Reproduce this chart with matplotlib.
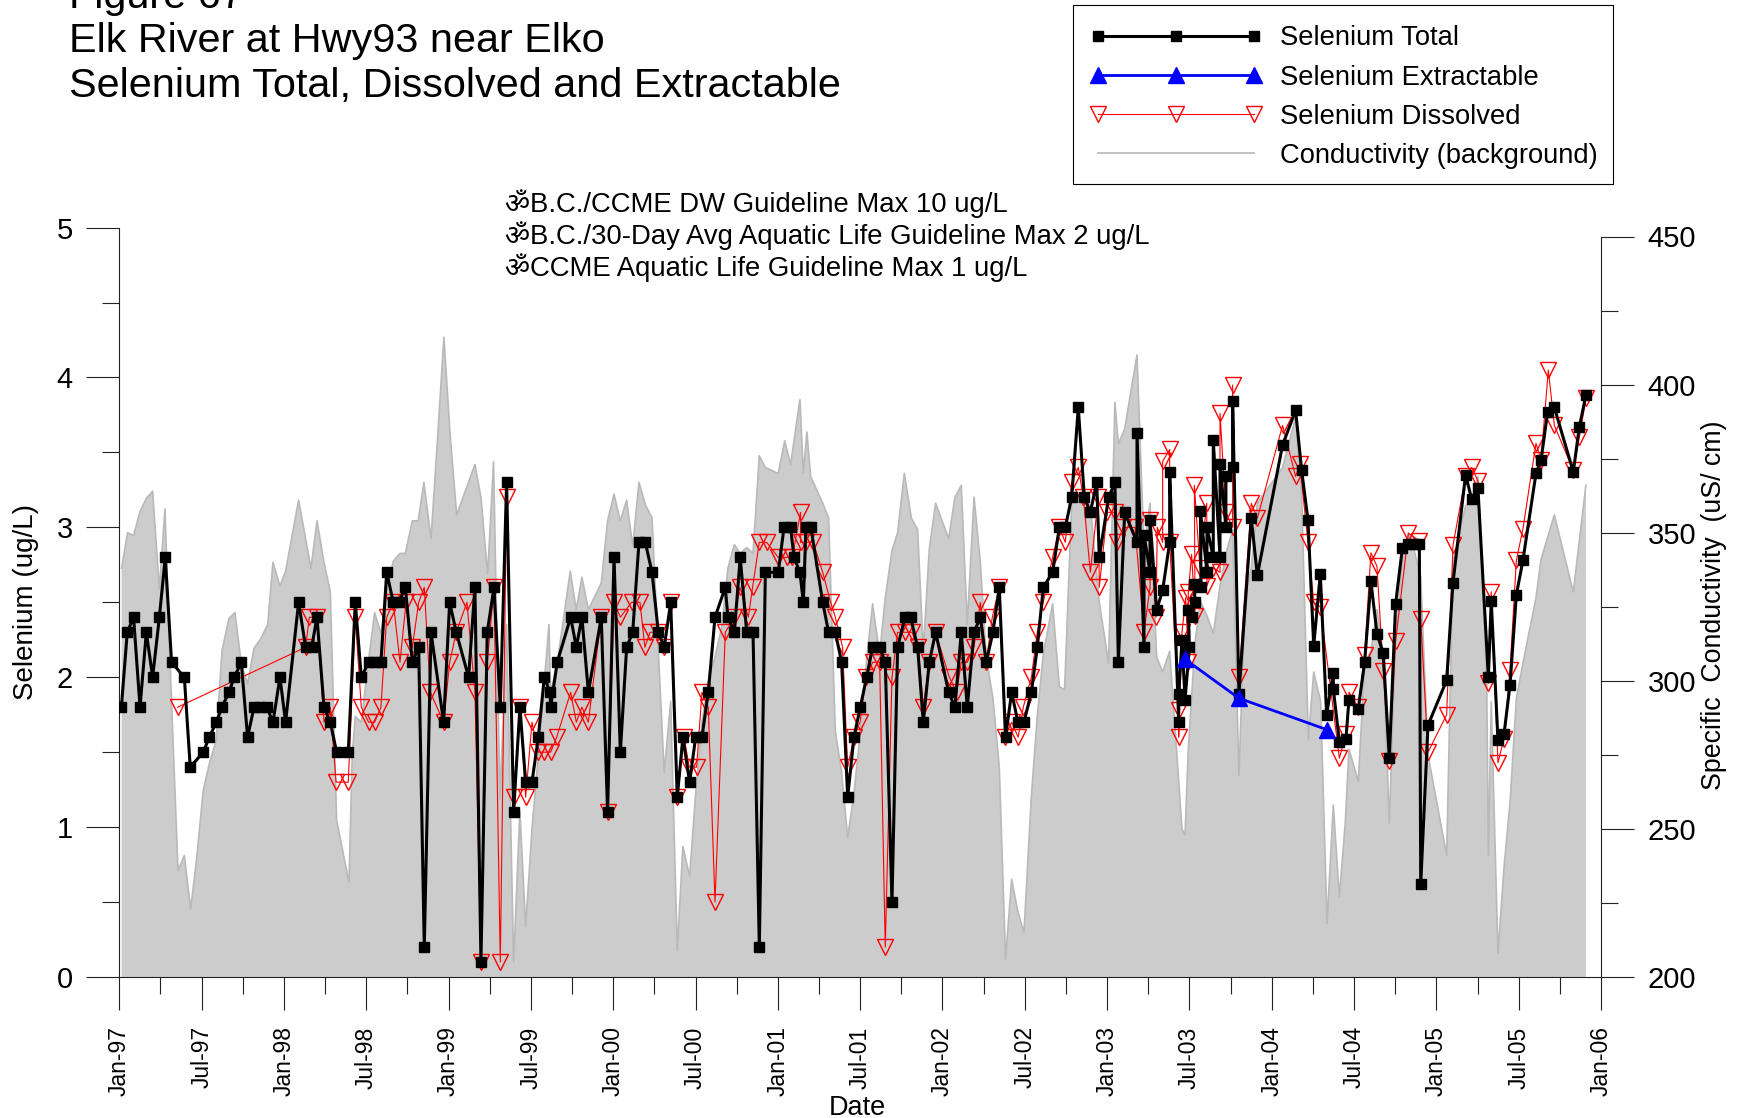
# Elk River selenium figure
import matplotlib
matplotlib.use("Agg")
import matplotlib.pyplot as plt
from matplotlib.patches import Rectangle
from matplotlib.ticker import MultipleLocator

plt.rcParams['font.family'] = ['Liberation Sans', 'Noto Sans', 'DejaVu Sans']

# x values are months counted from Jan-97
total_m = [0.15,0.58,1.04,1.51,1.97,2.43,2.92,3.35,3.81,4.74,5.17,6.12,6.56,7.07,7.48,7.99,8.38,8.89,9.35,9.82,
           10.28,10.76,11.2,11.71,12.12,13.07,13.58,14.02,14.41,14.92,15.38,15.84,16.69,17.2,17.64,18.17,18.61,19.07,19.49,19.97,
           20.38,20.85,21.36,21.82,22.23,22.72,23.64,24.08,24.56,25.46,25.92,26.36,26.82,27.31,27.77,28.23,28.74,29.2,29.62,30.08,
           30.54,30.98,31.39,31.44,31.92,32.9,33.31,33.72,34.19,35.13,35.59,36.06,36.52,36.98,37.42,37.88,38.34,38.83,39.29,39.72,
           40.19,40.67,41.08,41.57,42.01,42.47,42.93,43.42,44.17,44.36,44.83,45.26,45.73,46.19,46.65,47.09,48.03,48.45,48.93,49.18,
           49.61,49.86,50.05,50.41,51.27,51.7,52.19,52.65,53.09,53.55,54.01,54.47,54.91,55.42,55.83,56.32,56.73,57.27,57.68,58.19,
           58.6,59.04,59.5,60.45,60.91,61.37,61.81,62.3,62.76,63.19,63.68,64.14,64.6,65.04,65.5,65.94,66.48,66.91,67.35,68.03,
           68.52,68.95,69.42,69.9,70.34,70.78,71.24,71.43,72.11,72.57,72.82,73.28,74.18,74.18,74.69,74.69,75.13,75.13,75.61,76.05,
           76.56,76.56,77.22,77.22,77.46,77.68,78.0,77.92,78.16,78.41,78.36,78.85,78.8,79.28,79.28,79.74,79.74,80.23,80.23,80.66,
           80.66,81.15,81.15,81.61,82.51,82.95,84.79,85.74,86.18,86.64,87.06,87.54,88.0,88.49,88.49,88.93,89.41,89.63,90.31,90.77,
           91.23,91.67,92.13,92.57,93.03,93.52,93.96,94.4,94.76,94.86,95.39,96.75,97.21,98.13,98.57,99.03,99.79,100.0,100.49,100.93,
           101.37,101.83,102.31,103.26,103.63,104.11,104.6,105.98,106.42,106.9]
total_v = [1.8,2.3,2.4,1.8,2.3,2.0,2.4,2.8,2.1,2.0,1.4,1.5,1.6,1.7,1.8,1.9,2.0,2.1,1.6,1.8,
           1.8,1.8,1.7,2.0,1.7,2.5,2.2,2.2,2.4,1.8,1.7,1.5,1.5,2.5,2.0,2.1,2.1,2.1,2.7,2.5,
           2.5,2.6,2.1,2.2,0.2,2.3,1.7,2.5,2.3,2.0,2.6,0.1,2.3,2.6,1.8,3.3,1.1,1.8,1.3,1.3,
           1.6,2.0,1.9,1.8,2.1,2.4,2.2,2.4,1.9,2.4,1.1,2.8,1.5,2.2,2.3,2.9,2.9,2.7,2.3,2.2,
           2.5,1.2,1.6,1.3,1.6,1.6,1.9,2.4,2.6,2.4,2.3,2.8,2.3,2.3,0.2,2.7,2.7,3.0,3.0,2.8,
           2.7,2.5,3.0,3.0,2.5,2.3,2.3,2.1,1.2,1.6,1.8,2.0,2.2,2.2,2.1,0.5,2.2,2.4,2.4,2.2,
           1.7,2.1,2.3,1.9,1.8,2.3,1.8,2.3,2.4,2.1,2.3,2.6,1.6,1.9,1.7,1.7,1.9,2.2,2.6,2.7,
           3.0,3.0,3.2,3.8,3.2,3.1,3.3,2.8,3.2,3.3,2.1,3.1,2.9,3.63,2.2,2.95,2.7,3.05,2.45,2.58,
           2.9,3.37,1.7,1.89,2.25,1.85,2.2,2.45,2.4,2.5,2.62,2.6,3.11,2.7,3.0,2.8,3.58,2.8,3.42,3.0,
           3.34,3.4,3.84,1.89,3.06,2.68,3.55,3.78,3.38,3.05,2.21,2.69,1.75,2.03,1.92,1.57,1.59,1.85,1.79,2.1,
           2.64,2.29,2.16,1.46,2.49,2.86,2.89,2.89,2.89,0.62,1.68,1.98,2.63,3.35,3.19,3.26,2.0,2.51,1.58,1.62,
           1.95,2.55,2.78,3.36,3.45,3.77,3.8,3.37,3.67,3.88]

dissolved_m = [4.25,13.58,13.85,14.41,14.92,15.38,15.8,16.69,17.2,17.64,18.17,18.61,19.07,19.49,19.97,20.46,20.9,21.36,21.82,22.23,
               22.67,23.64,24.08,24.56,25.34,25.92,26.36,26.82,27.31,27.77,28.23,28.74,29.2,29.62,30.08,30.54,30.98,31.44,31.88,32.9,
               33.31,33.72,34.19,35.13,35.59,36.06,36.52,37.34,37.95,38.31,38.68,39.29,39.72,40.19,40.67,41.16,41.55,42.08,42.47,42.93,
               43.42,44.17,44.83,45.24,45.85,46.16,46.65,47.18,48.03,48.64,49.05,49.66,49.66,50.05,50.58,51.27,51.85,52.19,52.72,53.09,
               53.55,53.99,54.42,54.91,55.42,55.83,56.32,56.73,57.27,57.78,58.24,58.6,59.04,59.5,60.5,61.03,61.37,61.81,62.3,62.76,
               63.19,63.63,64.14,64.55,65.04,65.52,65.89,66.48,66.91,67.35,68.03,68.52,68.95,69.42,69.9,70.27,70.78,71.36,71.43,72.0,
               72.57,72.74,73.18,74.03,74.69,75.13,75.13,75.56,75.66,76.05,76.05,76.56,76.56,77.22,77.22,77.46,77.73,77.92,77.92,78.16,
               78.41,78.36,78.77,79.26,79.28,79.74,80.23,80.23,80.66,81.15,81.15,81.61,82.51,82.95,84.79,85.74,86.05,86.64,87.06,87.54,
               88.93,89.41,89.63,90.31,90.77,91.23,91.67,92.13,92.57,93.03,93.96,94.76,94.86,95.39,96.75,97.21,98.13,98.57,99.03,99.79,
               100.0,100.49,100.93,101.37,101.83,102.31,103.26,103.63,104.16,104.6,105.98,106.42,106.9]
dissolved_v = [1.8,2.2,2.4,2.4,1.7,1.8,1.3,1.3,2.4,1.8,1.7,1.7,1.8,2.4,2.5,2.1,2.5,2.2,2.5,2.6,
               1.9,1.7,2.1,2.3,2.5,1.9,0.1,2.1,2.6,0.1,3.2,1.2,1.8,1.2,1.7,1.5,1.5,1.5,1.6,1.9,
               1.7,1.8,1.7,2.4,1.1,2.5,2.4,2.5,2.5,2.2,2.3,2.3,2.2,2.5,1.2,1.6,1.4,1.4,1.9,1.8,
               0.5,2.3,2.4,2.6,2.4,2.6,2.9,2.9,2.8,2.8,2.8,3.1,2.9,2.9,2.9,2.7,2.5,2.4,2.2,1.4,
               1.6,1.7,2.0,2.1,2.1,0.2,2.0,2.3,2.3,2.3,2.2,1.8,2.1,2.3,2.0,1.9,2.1,2.1,2.2,2.5,
               2.1,2.4,2.6,1.6,1.7,1.6,1.8,2.0,2.3,2.5,2.8,3.0,2.9,3.3,3.4,3.2,2.7,3.2,2.6,3.1,
               3.1,2.9,3.0,3.0,2.3,2.6,3.05,2.4,3.0,2.9,3.44,3.52,2.9,1.78,1.6,2.3,2.53,2.1,2.57,2.82,
               2.41,3.28,2.73,3.16,2.61,2.73,2.7,3.76,3.1,3.0,3.95,2.0,3.16,3.06,3.68,3.34,3.42,2.9,2.5,2.47,
               1.46,1.62,1.9,1.8,2.15,2.83,2.74,2.04,1.44,2.24,2.96,2.91,2.39,1.5,1.75,2.88,3.34,3.4,3.31,1.96,
               2.57,1.43,1.59,2.05,2.78,2.99,3.56,3.45,4.05,3.68,3.38,3.6,3.86]

extract_m = [77.68, 81.61, 88.03]
extract_v = [2.12, 1.86, 1.65]

cond_m = [0.17,0.6,1.04,1.5,1.97,2.43,2.92,3.33,3.7,4.28,4.74,5.2,5.64,6.12,6.56,7.07,7.48,7.99,8.43,8.89,
          9.35,9.82,10.28,10.82,11.2,11.71,12.12,13.07,13.58,13.97,14.41,14.92,15.38,15.84,16.74,16.98,17.2,17.64,18.17,18.61,
          19.07,19.49,19.97,20.46,20.85,21.36,21.79,22.2,22.72,23.2,23.66,24.1,24.59,25.92,26.36,26.85,27.28,27.75,28.23,28.74,
          29.2,29.62,30.08,30.54,31.32,31.44,31.92,32.87,33.31,33.72,34.19,35.13,35.59,36.06,36.52,36.98,37.42,37.88,38.34,38.83,
          39.29,39.72,40.19,40.67,41.08,41.57,42.01,42.47,42.93,43.42,43.9,44.36,44.83,45.26,45.73,46.19,46.65,47.09,48.03,48.5,
          48.93,49.61,49.86,50.12,50.39,51.27,51.7,52.19,52.65,53.09,53.55,54.01,54.47,54.91,55.42,55.83,56.32,56.73,57.22,57.73,
          58.19,58.6,59.04,59.5,60.45,60.91,61.37,61.81,62.3,62.76,63.19,63.68,64.14,64.6,65.04,65.5,65.94,66.48,66.91,67.35,
          68.03,68.52,68.9,69.42,69.9,70.34,70.78,71.43,72.11,72.57,72.82,73.28,74.18,74.69,75.13,75.61,76.05,76.56,77.46,77.68,
          77.92,78.41,78.79,79.28,79.74,80.23,80.66,81.15,81.61,82.05,82.51,82.95,83.87,84.79,85.74,86.18,86.67,87.06,87.57,88.03,
          88.49,88.93,89.36,89.63,90.31,90.77,91.23,91.67,92.13,92.57,93.03,93.52,93.96,94.44,94.86,95.39,96.75,97.21,97.67,98.13,
          98.57,99.03,99.67,99.79,100.0,100.49,100.93,101.37,101.83,102.31,103.26,103.63,104.6,105.98,106.9]
cond_v = [338,350,349,357,361.6,364,331,358,306,236,241,223,240,263,272,280,310,321,323,306,
          299,311,314,319,340,332,337,361,348,338,354,340,330,253,232,275,288,286,307,323,
          316,330,340.4,343,343,354,354,367,348,382,416,384,356,373,362,336,374,260,319,205,
          256,217,250,275,319,296,306,337,324,335,324,333,354,363,354,361,345.5,367,359.5,355,
          310,269,293,209,244,234,262,286,300,308,318,338,346,343,345,343,376,372,370,381,
          373,395,370,384,369,360,355,283,269,247,262,282.6,307,326,309,328,344,350,370,355,
          351,310,344.5,360,348,362,366,319,362,340,308,294,271,206,233,222,215,261,288,309,
          326,298,297,360,362,362,359,326.5,306,394,380,385,410,345,360,308,303,310,250,248,
          277,313,327,322,316,332,343,351,268,328,338,360,366,372,389,363,280,303,293,218,
          258,227,252,277,266,306,310,324,309,252,315,340,350,343,335,275,241,340,350,359,
          361,369,300,241,293,208,237,259,294,306,328,341,356,330,366]

month_labels = ['Jan-97','Jul-97','Jan-98','Jul-98','Jan-99','Jul-99','Jan-00','Jul-00','Jan-01','Jul-01',
                'Jan-02','Jul-02','Jan-03','Jul-03','Jan-04','Jul-04','Jan-05','Jul-05','Jan-06']
title_lines = ['Figure 67', 'Elk River at Hwy93 near Elko', 'Selenium Total, Dissolved and Extractable']
guide_lines = ['\u0950B.C./CCME DW Guideline Max 10 ug/L',
               '\u0950B.C./30-Day Avg Aquatic Life Guideline Max 2 ug/L',
               '\u0950CCME Aquatic Life Guideline Max 1 ug/L']

W, H = 1741, 1118
fig = plt.figure(figsize=(W/100, H/100), dpi=100, facecolor='white')

x0, x1, y0 = 119.3, 1601, 977
# conductivity axis is a bit shorter than the selenium one
ax2 = fig.add_axes([x0/W, 1-y0/H, (x1-x0)/W, (y0-236.5)/H])
ax = fig.add_axes([x0/W, 1-y0/H, (x1-x0)/W, (y0-227.6)/H])
ax.patch.set_visible(False)

ax2.fill_between(cond_m, cond_v, 200, facecolor='#cccccc', edgecolor='none')
l_c, = ax2.plot(cond_m, cond_v, color='#b9b9b9', lw=1.2)
ax2.set_xlim(0, 108)
ax2.set_ylim(200, 450)
ax2.yaxis.tick_right()
ax2.yaxis.set_label_position('right')
ax2.yaxis.set_major_locator(MultipleLocator(50))
ax2.yaxis.set_minor_locator(MultipleLocator(25))
ax2.set_xticks([])

l_d, = ax.plot(dissolved_m, dissolved_v, color='red', lw=0.8, marker='v', ms=12,
               mfc='none', mec='red', mew=1.0, zorder=2)
l_t, = ax.plot(total_m, total_v, color='black', lw=2.2, marker='s', ms=6.5, mfc='black', mec='black', zorder=3)
# blue sits over the black series in the original
l_e, = ax.plot(extract_m, extract_v, color='blue', lw=2, marker='^', ms=12, mfc='blue', mec='blue', zorder=4)

ax.set_xlim(0, 108)
ax.set_ylim(0, 5)
ax.xaxis.set_major_locator(MultipleLocator(6))
ax.xaxis.set_minor_locator(MultipleLocator(3))
ax.set_xticks(range(0, 109, 6))
ax.set_xticklabels(month_labels, rotation=90)
ax.yaxis.set_major_locator(MultipleLocator(1))
ax.yaxis.set_minor_locator(MultipleLocator(0.5))

for a in (ax, ax2):
    a.spines['top'].set_visible(False)
    for s in a.spines.values():
        s.set_linewidth(0.8)
        s.set_color('#222222')
    a.tick_params(which='major', length=23.5, width=0.8, color='#222222', labelsize=21, pad=10)
    a.tick_params(which='minor', length=12, width=0.8, color='#222222')
ax.spines['right'].set_visible(False)
ax2.spines['left'].set_visible(False)
ax2.spines['bottom'].set_visible(False)
ax.tick_params(axis='x', which='major', labelsize=16.5, pad=12)


def ptext(x, y, s, **kw):
    # x, y are pixels from the top left of the figure
    fig.text(x/W, 1-y/H, s, **kw)


ty = [8, 52, 97]
for y, s in zip(ty, title_lines):
    ptext(69, y, s, fontsize=29.75, va='baseline')

gy = [212, 244, 276]
for y, s in zip(gy, guide_lines):
    ptext(505, y, s, fontsize=19.8, va='baseline')

ptext(26, 602, 'Selenium (ug/L)', fontsize=20, rotation=90, ha='center', va='center')
ptext(1714, 605, 'Specific  Conductivity  (uS/ cm)', fontsize=19.3, rotation=90, ha='center', va='center')
ptext(857, 1108, 'Date', fontsize=19.5, ha='center', va='center')

# legend box drawn by hand so the rows can sit centred in it
fig.add_artist(Rectangle((1072.6/W, 1-184/H), 540.4/W, 178.5/H, transform=fig.transFigure,
                         facecolor='white', edgecolor='black', lw=0.8))
leg = fig.legend(handles=[l_t, l_e, l_d, l_c],
                 labels=['Selenium Total', 'Selenium Extractable', 'Selenium Dissolved', 'Conductivity (background)'],
                 loc='upper left', bbox_to_anchor=(1072.6/W, 1-8.5/H), borderaxespad=0,
                 numpoints=3, handlelength=6.3, handletextpad=0.65, borderpad=0.62, labelspacing=0.48,
                 fontsize=19.7, frameon=False)

fig.savefig('out.png', dpi=100)
